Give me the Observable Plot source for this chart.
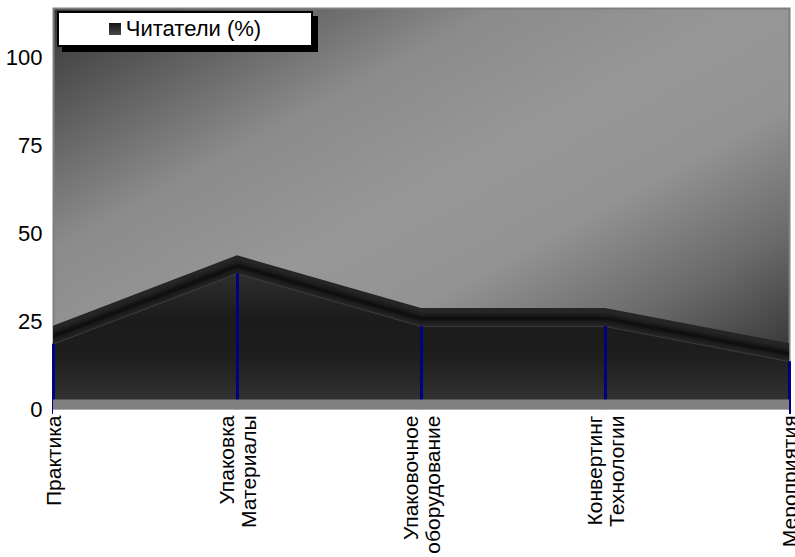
<!DOCTYPE html>
<html>
<head>
<meta charset="utf-8">
<script src="https://cdn.jsdelivr.net/npm/d3@7"></script>
<script src="https://cdn.jsdelivr.net/npm/@observablehq/plot@0.6"></script>
<style>
  html, body { margin: 0; padding: 0; background: #fff; }
  #wrap { position: relative; width: 795px; height: 557px; font-family: "Liberation Sans", Arial, sans-serif; }
  #legend {
    position: absolute; left: 57px; top: 11px; width: 252px; height: 32px;
    background: #fff; border: 2px solid #000; box-shadow: 5px 5px 0 #000;
    display: flex; align-items: center; justify-content: center;
    font-size: 22px; color: #000; white-space: nowrap;
  }
  #legend .sw { width: 12px; height: 12px; background: linear-gradient(#141414, #4a4a4a); margin-right: 5px; }
</style>
</head>
<body>
<div id="wrap"></div>
<script>
const categories = ["Практика", "Упаковка\nМатериалы", "Упаковочное\nоборудование", "Конвертинг\nТехнологии", "Мероприятия"];
const readers = [20, 40, 25, 25, 15];
const yTicks = [0, 25, 50, 75, 100];
const seriesName = "Читатели (%)";

const rows = categories.map((c, i) => ({category: c, value: readers[i]}));

const chart = Plot.plot({
  width: 795,
  height: 557,
  marginLeft: 53,
  marginRight: 6,
  marginTop: 8,
  marginBottom: 148,
  style: {fontFamily: "Liberation Sans, Arial, sans-serif", fontSize: "22px", color: "#000", background: "transparent"},
  x: {type: "point", domain: categories, padding: 0, axis: null},
  y: {domain: [0, 114], ticks: yTicks, tickSize: 0, tickPadding: 11, label: null},
  marks: [
    Plot.frame({fill: "url(#bgGrad)", stroke: "#7f7f7f", strokeWidth: 2}),
    // top (depth) face
    Plot.areaY(rows, {x: "category", y: "value", fill: "#252525", dy: -13}),
    Plot.lineY(rows, {x: "category", y: "value", stroke: "#050505", strokeWidth: 11, strokeOpacity: 0.2, dy: -3, clip: true}),
    Plot.lineY(rows, {x: "category", y: "value", stroke: "#050505", strokeWidth: 6, strokeOpacity: 0.3, dy: -3, clip: true}),
    Plot.lineY(rows, {x: "category", y: "value", stroke: "#050505", strokeWidth: 2.5, strokeOpacity: 0.4, dy: -3, clip: true}),
    // front face
    Plot.areaY(rows, {x: "category", y: "value", fill: "url(#frontGrad)", dy: 5}),
    Plot.lineY(rows, {x: "category", y: "value", stroke: "#3c3c3c", strokeWidth: 1, dy: 5, clip: true}),
    Plot.ruleX(rows, {x: "category", y1: 0, y2: "value", dy: 5, stroke: "#000080", strokeWidth: 3}),
    // floor
    Plot.ruleY([0], {stroke: "#808080", strokeWidth: 10, dy: -5}),
    Plot.ruleY([0], {stroke: "#ffffff", strokeWidth: 8, dy: 4}),
    // category labels
    Plot.text(rows, {x: "category", text: "category", frameAnchor: "bottom", rotate: -90, textAnchor: "end", lineAnchor: "middle", lineHeight: 1.05, dy: 6, fontSize: 21, fill: "#000", ariaLabel: "x-labels"})
  ]
});

const svg = d3.select(chart);
const defs = svg.insert("defs", ":first-child");
const bg = defs.append("linearGradient").attr("id", "bgGrad").attr("x1", 0).attr("y1", 0).attr("x2", 1).attr("y2", 1);
[[0, "#363636"], [0.15, "#606060"], [0.3, "#8b8b8b"], [0.48, "#979797"], [0.62, "#939393"], [0.78, "#6a6a6a"], [0.92, "#3a3a3a"], [1, "#2c2c2c"]]
  .forEach(([o, c]) => bg.append("stop").attr("offset", o).attr("stop-color", c));
const fg = defs.append("linearGradient").attr("id", "frontGrad").attr("x1", 0).attr("y1", 0).attr("x2", 0).attr("y2", 1);
[[0, "#2e2e2e"], [0.33, "#1b1b1b"], [0.6, "#1e1e1e"], [0.9, "#323232"], [1, "#333333"]]
  .forEach(([o, c]) => fg.append("stop").attr("offset", o).attr("stop-color", c));

const wrap = document.getElementById("wrap");
wrap.appendChild(chart);

// center multi-line rotated labels relative to each other, block starting at the axis
svg.selectAll('g[aria-label="x-labels"] text').each(function () {
  const spans = d3.select(this).selectAll("tspan");
  if (spans.size() < 2) return;
  let L = 0;
  spans.each(function () { L = Math.max(L, this.getComputedTextLength()); });
  d3.select(this).attr("text-anchor", "middle");
  spans.attr("x", -L / 2);
});

const legend = document.createElement("div");
legend.id = "legend";
legend.innerHTML = '<span class="sw"></span><span></span>';
legend.lastChild.textContent = seriesName;
wrap.appendChild(legend);
</script>
</body>
</html>
